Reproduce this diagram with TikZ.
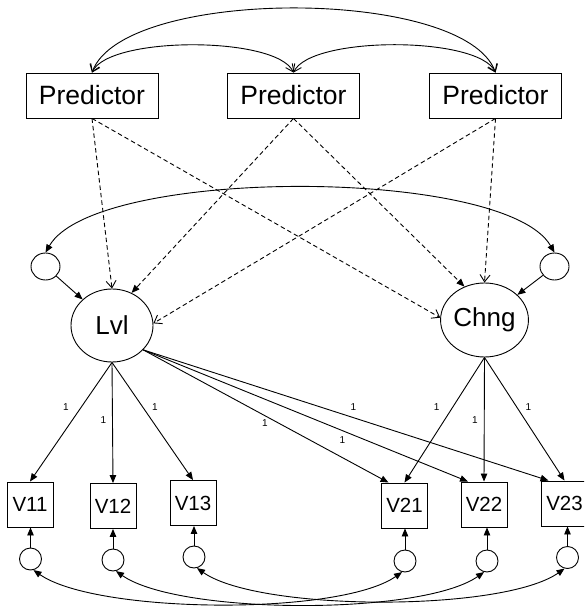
\documentclass[tikz,border=0pt]{standalone}
\usepackage{fontspec}
\setmainfont{Liberation Sans}
\usetikzlibrary{arrows.meta,shapes.geometric}
\begin{document}
\begin{tikzpicture}[x=1pt,y=1pt,line width=0.9pt,
  pred/.style={draw, rectangle, minimum width=132pt, minimum height=45pt, inner sep=0pt, font=\fontsize{26.5}{30}\selectfont},
  obs/.style={draw, rectangle, minimum width=46pt, minimum height=45pt, inner sep=0pt, font=\fontsize{20.5}{24}\selectfont},
  lat/.style={draw, ellipse, minimum width=82pt, minimum height=73pt, inner sep=0pt, font=\fontsize{26}{30}\selectfont},
  res/.style={draw, ellipse, minimum width=29pt, minimum height=27pt, inner sep=0pt},
  err/.style={draw, circle, minimum size=22pt, inner sep=0pt},
  lab/.style={font=\fontsize{10}{12}\selectfont, inner sep=0pt},
  reg/.style={-{Triangle[length=8pt,width=6.5pt]}},
  dsh/.style={dash pattern=on 4.5pt off 3pt},
  dashopen/.style={-{Straight Barb[length=7pt,width=10pt]}},
  cov/.style={{Triangle[length=8pt,width=6.5pt]}-{Triangle[length=8pt,width=6.5pt]}},
  covopen/.style={{Straight Barb[length=7pt,width=10pt]}-{Straight Barb[length=7pt,width=10pt]}}
]
\useasboundingbox (0,0) rectangle (584,-609);
\clip (0,0) rectangle (584,-609);

% predictors
\node[pred] (P1) at (92,-95.5) {Predictor};
\node[pred] (P2) at (293.5,-95.5) {Predictor};
\node[pred] (P3) at (495.5,-95.5) {Predictor};

% latent variables and their residuals
\node[lat] (Lvl) at (112,-325.5) {Lvl};
\node[lat, minimum width=83pt, minimum height=74pt] (Chng) at (484.5,-320) {Chng};
\node[res] (r1) at (45.5,-266.5) {};
\node[res] (r2) at (554.5,-266.5) {};

% observed variables
\node[obs] (V11) at (30,-504.5) {V11};
\node[obs] (V12) at (113,-506) {V12};
\node[obs] (V13) at (193,-503) {V13};
\node[obs] (V21) at (404.5,-505.5) {V21};
\node[obs] (V22) at (484,-504.5) {V22};
\node[obs] (V23) at (564.5,-503.5) {V23};

% error terms
\node[err] (e11) at (30.5,-559) {};
\node[err] (e12) at (113,-560) {};
\node[err] (e13) at (194,-557) {};
\node[err] (e21) at (405,-561) {};
\node[err] (e22) at (487,-561) {};
\node[err] (e23) at (567.5,-557.5) {};

% predictor covariances
\draw[covopen] (P1.north) to[out=70,in=110,looseness=0.58] (P3.north);
\draw[covopen] (P1.north) to[out=65,in=115,looseness=0.515] (P2.north);
\draw[covopen] (P2.north) to[out=65,in=115,looseness=0.515] (P3.north);

% regressions on predictors
\draw[dsh,dashopen] (P1.south) -- (Lvl.north);
\draw[dsh,reg] (P2.south) -- (Lvl.59);
\draw[dsh,dashopen] (P3.south) -- (Lvl.3);
\draw[dsh,dashopen] (P1.south) -- (Chng.177);
\draw[dsh,reg] (P2.south) -- (Chng.121);
\draw[dsh,dashopen] (P3.south) -- (Chng.north);

% latent residuals
\draw[cov] (r1.north) to[out=60,in=120,looseness=0.5] (r2.north);
\draw[reg] (r1) -- (Lvl);
\draw[reg] (r2) -- (Chng);

% loadings
\draw[reg] (Lvl.south) -- (V11.north);
\draw[reg] (Lvl.south) -- (V12.north);
\draw[reg] (Lvl.south) -- (V13.north);
\draw[reg] (Lvl.-38) -- ([xshift=-16pt]V21.north);
\draw[reg] (Lvl.-38) -- ([xshift=-16pt]V22.north);
\draw[reg] (Lvl.-38) -- ([xshift=-16pt]V23.north);
\draw[reg] (Chng.south) -- (V21.north);
\draw[reg] (Chng.south) -- (V22.north);
\draw[reg] (Chng.south) -- (V23.north);

% loading labels
\node[lab] (l11) at (66,-406.7) {1};
\node[lab] (l12) at (103.3,-420) {1};
\node[lab] (l13) at (155,-406.7) {1};
\node[lab] (l21) at (265,-423.3) {1};
\node[lab] (l22) at (342.3,-440) {1};
\node[lab] (l23) at (353.3,-406.7) {1};
\node[lab] (m21) at (436.7,-406.7) {1};
\node[lab] (m22) at (475,-420) {1};
\node[lab] (m23) at (528.3,-406.7) {1};

% errors to observed
\draw[reg] (e11.north) -- (e11.north |- V11.south);
\draw[reg] (e12.north) -- (e12.north |- V12.south);
\draw[reg] (e13.north) -- (e13.north |- V13.south);
\draw[reg] (e21.north) -- (e21.north |- V21.south);
\draw[reg] (e22.north) -- (e22.north |- V22.south);
\draw[reg] (e23.north) -- (e23.north |- V23.south);

% error covariances
\draw[cov] (e11.-75) to[out=-35,in=-145,looseness=0.53] (e21.-105);
\draw[cov] (e12.-75) to[out=-35,in=-145,looseness=0.53] (e22.-105);
\draw[cov] (e13.-75) to[out=-35,in=-145,looseness=0.53] (e23.-105);
\end{tikzpicture}
\end{document}
